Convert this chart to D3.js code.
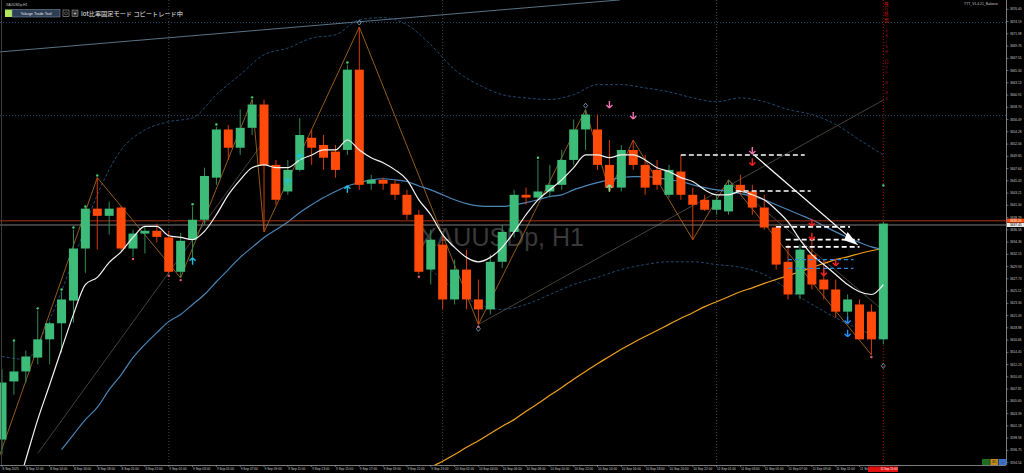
<!DOCTYPE html>
<html><head><meta charset="utf-8">
<script src="https://cdn.jsdelivr.net/npm/d3@7"></script>
<style>html,body{margin:0;padding:0;background:#000;overflow:hidden}svg{display:block}</style>
</head><body><svg id="c" width="1024" height="473"></svg>
<script>
// ---- DATA ----
const barTimes = ["8 Sep 10:00","8 Sep 11:00","8 Sep 12:00","8 Sep 13:00","8 Sep 14:00","8 Sep 15:00","8 Sep 16:00","8 Sep 17:00","8 Sep 18:00","8 Sep 19:00","8 Sep 20:00","8 Sep 21:00","8 Sep 22:00","8 Sep 23:00",
"9 Sep 01:00","9 Sep 02:00","9 Sep 03:00","9 Sep 04:00","9 Sep 05:00","9 Sep 06:00","9 Sep 07:00","9 Sep 08:00","9 Sep 09:00","9 Sep 10:00","9 Sep 11:00","9 Sep 12:00","9 Sep 13:00","9 Sep 14:00","9 Sep 15:00","9 Sep 16:00","9 Sep 17:00","9 Sep 18:00","9 Sep 19:00","9 Sep 20:00","9 Sep 21:00","9 Sep 22:00","9 Sep 23:00",
"10 Sep 01:00","10 Sep 02:00","10 Sep 03:00","10 Sep 04:00","10 Sep 05:00","10 Sep 06:00","10 Sep 07:00","10 Sep 08:00","10 Sep 09:00","10 Sep 10:00","10 Sep 11:00","10 Sep 12:00","10 Sep 13:00","10 Sep 14:00","10 Sep 15:00","10 Sep 16:00","10 Sep 17:00","10 Sep 18:00","10 Sep 19:00","10 Sep 20:00","10 Sep 21:00","10 Sep 22:00","10 Sep 23:00",
"11 Sep 01:00","11 Sep 02:00","11 Sep 03:00","11 Sep 04:00","11 Sep 05:00","11 Sep 06:00","11 Sep 07:00","11 Sep 08:00","11 Sep 09:00","11 Sep 10:00","11 Sep 11:00","11 Sep 12:00","11 Sep 13:00","11 Sep 14:00","11 Sep 15:00"];
const open  = [3598.7,3609.2,3611.0,3613.5,3616.8,3619.7,3623.8,3633.2,3640.4,3639.1,3640.6,3633.2,3635.9,3636.4,3635.2,3629.0,3634.8,3638.4,3646.0,3654.7,3651.4,3655.0,3659.2,3648.3,3643.5,3647.4,3653.2,3651.9,3650.7,3651.0,3665.5,3644.9,3645.6,3644.9,3642.9,3639.3,3629.4,3633.9,3624.0,3629.4,3624.0,3622.2,3630.8,3636.2,3642.9,3642.4,3643.5,3644.7,3649.2,3654.7,3654.7,3648.3,3644.2,3651.0,3648.3,3647.4,3642.9,3647.1,3642.9,3642.0,3640.2,3639.9,3644.7,3643.5,3640.6,3637.0,3630.8,3624.9,3632.1,3627.6,3625.8,3621.8,3623.1,3621.8,3616.8];
const high  = [3611.4,3616.4,3614.8,3622.0,3620.0,3625.4,3636.6,3640.6,3646.0,3641.7,3640.9,3636.6,3637.1,3637.7,3636.4,3636.0,3640.8,3647.8,3655.2,3655.5,3658.3,3660.1,3660.1,3649.2,3649.2,3656.8,3654.7,3653.7,3651.9,3666.4,3673.2,3646.5,3646.0,3645.6,3643.8,3640.2,3636.6,3635.7,3631.2,3633.0,3627.6,3632.1,3637.5,3643.8,3644.2,3649.2,3648.3,3651.0,3656.5,3658.3,3657.4,3652.8,3651.9,3652.8,3650.1,3649.2,3648.3,3650.1,3644.2,3642.9,3642.9,3645.6,3646.5,3644.7,3642.9,3637.5,3633.9,3633.9,3634.8,3631.2,3627.6,3624.9,3624.0,3623.1,3638.0];
const low   = [3596.0,3606.8,3609.0,3612.3,3612.3,3614.4,3619.8,3628.8,3633.0,3635.7,3632.8,3631.7,3632.3,3634.3,3628.7,3627.9,3631.2,3637.5,3644.7,3649.2,3650.1,3653.7,3636.2,3641.1,3642.9,3647.1,3648.3,3647.4,3646.0,3650.1,3643.8,3643.8,3643.8,3642.0,3638.4,3628.5,3626.7,3622.2,3623.1,3622.2,3619.5,3621.3,3629.7,3635.2,3641.1,3642.0,3642.4,3643.8,3648.3,3651.0,3647.4,3643.5,3643.5,3647.4,3642.9,3643.8,3642.4,3642.0,3634.8,3640.0,3639.3,3639.3,3642.9,3639.3,3636.6,3629.4,3624.0,3624.0,3625.8,3624.0,3620.7,3620.4,3616.8,3614.0,3615.9];
const close = [3609.0,3611.0,3613.7,3616.8,3619.7,3624.0,3633.2,3640.4,3639.1,3640.4,3633.2,3635.9,3636.4,3635.3,3629.0,3634.6,3638.4,3646.3,3654.7,3651.4,3655.0,3659.2,3648.3,3642.0,3647.4,3653.7,3651.4,3649.6,3647.4,3665.5,3644.7,3645.6,3644.9,3642.9,3639.3,3629.0,3634.8,3624.0,3629.4,3624.0,3622.2,3630.8,3636.2,3642.9,3642.4,3643.5,3644.7,3649.2,3654.7,3657.4,3648.3,3644.2,3651.0,3648.3,3644.2,3644.7,3647.4,3642.9,3641.1,3640.2,3642.0,3644.7,3643.5,3640.6,3637.0,3630.3,3624.9,3633.0,3626.7,3625.8,3621.8,3624.0,3616.8,3616.8,3637.7];
const maFast = [null,3587.9,3595.1,3602.3,3608.6,3615.0,3621.3,3626.7,3628.0,3630.7,3632.6,3635.2,3637.2,3637.2,3635.5,3635.2,3634.8,3636.3,3639.3,3642.9,3645.6,3647.8,3648.3,3647.8,3647.8,3649.2,3650.1,3651.0,3651.0,3652.8,3651.0,3649.6,3648.7,3647.4,3645.6,3642.0,3639.3,3635.7,3633.4,3631.6,3630.8,3631.6,3633.4,3636.2,3639.3,3642.0,3643.8,3645.6,3647.8,3650.1,3650.1,3649.6,3650.1,3650.1,3649.2,3647.8,3647.1,3646.0,3645.3,3643.8,3642.9,3642.9,3643.5,3642.9,3642.0,3640.2,3638.0,3634.8,3632.1,3630.3,3628.5,3626.7,3625.4,3624.9,3626.7];
const maMid = [null,null,null,null,null,3596.9,3599.6,3602.3,3604.5,3607.7,3610.4,3613.5,3615.9,3618.0,3620.0,3621.3,3623.1,3624.9,3627.2,3629.4,3631.6,3633.4,3635.2,3636.6,3638.0,3639.7,3641.1,3642.4,3643.5,3644.5,3645.1,3645.6,3645.8,3645.6,3645.3,3644.5,3643.8,3642.9,3642.0,3641.3,3640.9,3640.8,3640.8,3641.1,3641.5,3642.0,3642.6,3642.9,3643.8,3644.5,3645.1,3645.6,3646.0,3646.2,3646.2,3646.0,3645.6,3645.3,3644.7,3644.2,3643.8,3643.5,3643.1,3642.6,3642.0,3641.1,3640.2,3639.3,3638.4,3637.3,3636.2,3635.2,3634.3,3633.5,3633.0];
const maSlow = [3592.4,3593.7,3594.8,3596.0,3597.3,3598.5,3599.8,3601.1,3602.3,3603.8,3605.2,3606.7,3608.1,3609.6,3611.0,3612.4,3613.7,3615.0,3616.2,3617.3,3618.4,3619.5,3620.6,3621.6,3622.7,3623.6,3624.5,3625.4,3626.1,3626.9,3627.6,3628.3,3629.0,3629.8,3630.5,3631.2,3631.7,3632.3,3632.8,3633.2];
const maSlowStart = 35;
const bandUpper = [[0,3613.7],[2,3613.2],[4,3620.4],[6,3631.2],[8,3642.9],[10,3651.0],[12,3654.6],[14,3656.1],[16,3656.8],[18,3661.0],[20,3664.6],[22,3668.2],[24,3669.4],[26,3671.2],[28,3671.8],[30,3674.5],[32,3674.9],[34,3673.6],[36,3670.0],[38,3665.5],[40,3662.8],[42,3661.0],[44,3660.4],[46,3660.1],[48,3661.0],[50,3662.8],[52,3662.8],[54,3662.2],[56,3661.5],[58,3660.4],[60,3659.7],[62,3660.4],[64,3659.7],[66,3658.3],[68,3657.4],[70,3655.6],[72,3652.8],[74,3650.1]];
const bandLower = [[36,3629.4],[38,3625.8],[40,3623.1],[42,3622.2],[44,3623.1],[46,3624.9],[48,3626.7],[50,3628.0],[52,3629.4],[54,3630.3],[56,3630.8],[58,3630.8],[60,3630.3],[62,3629.8],[64,3628.5],[66,3625.8],[68,3623.1],[70,3620.7],[72,3618.6],[74,3616.8]];
const zigzag = [[-0.5,3594.0],[8,3646.0],[15,3627.9],[21,3660.1],[22,3636.2],[30,3673.2],[40,3619.5],[49,3658.3],[51,3643.5],[53,3652.8],[58,3634.8],[61,3645.6],[73,3614.0]];
const trendLines = [[[-0.2,3668.7],[51.9,3678.1]],[[3,3596.2],[22,3652.6]],[[40,3619.5],[74,3660.0]],[[61,3645.6],[74,3622.0]]];
const whiteLevels = [[57,67.4,3650.1],[61.6,67.9,3643.6],[65,71.2,3637.1],[65.8,72,3634.8],[65.8,72,3633.5]];
const blueLevels = [[66,71.5,3631.2],[66,71.5,3629.6]];
const cyanUp = [[16,3630.8],[24,3645.1],[25,3649.6],[29,3643.8]];
const greenUp = [[51,3644.0]];
const pinkDown = [[51,3659.3],[53,3657.3],[63,3651.0]];
const redDown = [[63,3648.9],[68,3638.0],[68,3635.5],[69,3629.0],[70,3630.8]];
const blueDown = [[71,3620.4],[71,3618.0]];
const fracHigh = [[1,3616.6],[3,3622.4],[5,3625.8],[6,3637.0],[7,3640.8],[8,3646.4],[16,3641.2],[18,3655.6],[21,3660.5],[29,3666.8],[45,3649.6],[74,3644.6]];
const fracLow = [[11,3631.3],[14,3628.3],[15,3627.5],[35,3628.1],[40,3619.1],[73,3613.6]];
const priceTicks = [3676.40,3674.19,3671.98,3669.76,3667.55,3665.34,3663.13,3660.91,3658.70,3656.49,3654.28,3652.06,3649.85,3647.64,3645.43,3643.21,3641.00,3638.79,3636.58,3634.36,3632.15,3629.94,3627.73,3625.51,3623.30,3621.09,3618.88,3616.66,3614.45,3612.24,3610.03,3607.81,3605.60,3603.39,3601.18,3598.96,3596.75,3594.54];
const timeTickBars = [0,2,4,6,8,10,12,14,16,18,20,22,24,26,28,30,32,34,36,38,40,42,44,46,48,50,52,54,56,58,60,62,64,66,68,70,72];
const timeTickLabels = ["8 Sep 2025","8 Sep 12:00","8 Sep 14:00","8 Sep 16:00","8 Sep 18:00","8 Sep 20:00","8 Sep 22:00","9 Sep 01:00","9 Sep 03:00","9 Sep 05:00","9 Sep 07:00","9 Sep 09:00","9 Sep 11:00","9 Sep 13:00","9 Sep 15:00","9 Sep 17:00","9 Sep 19:00","9 Sep 21:00","9 Sep 23:00","10 Sep 02:00","10 Sep 04:00","10 Sep 06:00","10 Sep 08:00","10 Sep 10:00","10 Sep 12:00","10 Sep 14:00","10 Sep 16:00","10 Sep 18:00","10 Sep 20:00","10 Sep 22:00","11 Sep 01:00","11 Sep 03:00","11 Sep 05:00","11 Sep 07:00","11 Sep 09:00","11 Sep 11:00","11 Sep 13:00"];
const daySeparators = [14,37,60];
const bidPrice = 3638.20, askPrice = 3637.45;
const hLevelsDotted = [3674.00, 3657.20];

// ---- LAYOUT ----
const W = 1024, H = 473, plotR = 1006, plotB = 465;
const svg = d3.select("#c");
const x = d3.scaleLinear().domain([0, 74]).range([2, 2 + 74 * 11.91]);
const y = d3.scaleLinear().domain([3594.54, 3676.40]).range([462.6, 9.3]);
svg.append("rect").attr("width", W).attr("height", H).attr("fill", "#000");
const defs = svg.append("defs");
defs.append("clipPath").attr("id", "pc").append("rect").attr("x", 0).attr("y", 0).attr("width", plotR).attr("height", plotB);
const g = svg.append("g").attr("clip-path", "url(#pc)");
const font = "'Liberation Sans', Arial, sans-serif";
const fs = 3.2;

g.append("text").attr("x", 502).attr("y", 246).attr("text-anchor", "middle").attr("fill", "#3a3a3a")
  .attr("font-family", "'Liberation Sans', Arial, sans-serif").attr("font-size", 25).text("XAUUSDp, H1");

hLevelsDotted.forEach(p => g.append("line").attr("x1", 0).attr("x2", plotR).attr("y1", y(p)).attr("y2", y(p))
  .attr("stroke", "#2f5f8f").attr("stroke-width", 0.8).attr("stroke-dasharray", "1,2"));
daySeparators.forEach(i => g.append("line").attr("x1", x(i)).attr("x2", x(i)).attr("y1", 0).attr("y2", plotB)
  .attr("stroke", "#555").attr("stroke-width", 0.8).attr("stroke-dasharray", "1,2"));
g.append("line").attr("x1", x(74)).attr("x2", x(74)).attr("y1", 0).attr("y2", plotB)
  .attr("stroke", "#c01010").attr("stroke-width", 0.8).attr("stroke-dasharray", "1,2");

const lineXY = d3.line().x(d => x(d[0])).y(d => y(d[1]));
trendLines.forEach((t, k) => g.append("path").attr("d", lineXY(t)).attr("fill", "none")
  .attr("stroke", k === 0 ? "#6f8fa8" : "#5a5248").attr("stroke-width", 0.8));

const bandLine = d3.line().x(d => x(d[0])).y(d => y(d[1])).curve(d3.curveMonotoneX);
[bandUpper, bandLower].forEach(b => g.append("path").attr("d", bandLine(b)).attr("fill", "none")
  .attr("stroke", "#24507a").attr("stroke-width", 0.9).attr("stroke-dasharray", "3,2"));

g.append("path").attr("d", lineXY(zigzag)).attr("fill", "none").attr("stroke", "#b8731f").attr("stroke-width", 0.8);

const maLine = (arr, off) => d3.line().defined(d => d != null).x((d, i) => x(i + off)).y(d => y(d)).curve(d3.curveMonotoneX)(arr);
g.append("path").attr("d", maLine(maSlow, maSlowStart)).attr("fill", "none").attr("stroke", "#f0a020").attr("stroke-width", 1.2);
g.append("path").attr("d", maLine(maMid, 0)).attr("fill", "none").attr("stroke", "#4a86b8").attr("stroke-width", 1.2);

g.append("line").attr("x1", 0).attr("x2", plotR).attr("y1", y(bidPrice)).attr("y2", y(bidPrice)).attr("stroke", "#c0391b").attr("stroke-width", 0.9);
g.append("line").attr("x1", 0).attr("x2", plotR).attr("y1", y(askPrice)).attr("y2", y(askPrice)).attr("stroke", "#8a8a8a").attr("stroke-width", 0.9);

const bw = 9;
const green = "#3dbb78", red = "#ff4a0a";
const bars = barTimes.map((t, i) => ({ i, o: open[i], h: high[i], l: low[i], c: close[i] }));
const cg = g.append("g");
cg.selectAll("line.w").data(bars).join("line").attr("x1", d => x(d.i)).attr("x2", d => x(d.i))
  .attr("y1", d => y(d.h)).attr("y2", d => y(d.l)).attr("stroke", d => d.c >= d.o ? "#2e8a58" : "#d83a08").attr("stroke-width", 1);
cg.selectAll("rect").data(bars).join("rect").attr("x", d => x(d.i) - bw / 2).attr("width", bw)
  .attr("y", d => y(Math.max(d.o, d.c))).attr("height", d => Math.max(1, Math.abs(y(d.o) - y(d.c))))
  .attr("fill", d => d.c >= d.o ? green : red);

g.append("path").attr("d", maLine(maFast, 0)).attr("fill", "none").attr("stroke", "#f4f4f4").attr("stroke-width", 1.2);

whiteLevels.forEach(l => g.append("line").attr("x1", x(l[0])).attr("x2", x(l[1])).attr("y1", y(l[2])).attr("y2", y(l[2]))
  .attr("stroke", "#fff").attr("stroke-width", 1.6).attr("stroke-dasharray", "5,3"));
blueLevels.forEach(l => g.append("line").attr("x1", x(l[0])).attr("x2", x(l[1])).attr("y1", y(l[2])).attr("y2", y(l[2]))
  .attr("stroke", "#2a8ae0").attr("stroke-width", 1.2).attr("stroke-dasharray", "4,3"));
g.append("line").attr("x1", x(63.2)).attr("y1", y(3650.0)).attr("x2", x(71.6)).attr("y2", y(3634.4)).attr("stroke", "#fff").attr("stroke-width", 1.3);
g.append("path").attr("d", d3.line()([[x(71.9), y(3633.8)], [x(71.0), y(3636.2)], [x(70.7), y(3634.7)]])).attr("fill", "#fff");

g.selectAll("circle.fh").data(fracHigh).join("circle").attr("cx", d => x(d[0])).attr("cy", d => y(d[1])).attr("r", 1.2).attr("fill", "#40d070");
g.selectAll("circle.fl").data(fracLow).join("circle").attr("cx", d => x(d[0])).attr("cy", d => y(d[1])).attr("r", 1.2).attr("fill", "#e06080");

function arrow(list, color, up) {
  list.forEach(d => {
    const cx = x(d[0]), cy = y(d[1]), s = up ? -1 : 1;
    g.append("path").attr("d", `M${cx},${cy + 4 * s}L${cx - 3},${cy + s}M${cx},${cy + 4 * s}L${cx + 3},${cy + s}M${cx},${cy + 4 * s}L${cx},${cy - 3 * s}`)
      .attr("stroke", color).attr("stroke-width", 1.4).attr("fill", "none");
  });
}
arrow(cyanUp, "#20c0e0", true);
arrow(greenUp, "#80e0a0", true);
arrow(pinkDown, "#f070b0", false);
arrow(redDown, "#ff2020", false);
arrow(blueDown, "#2090ff", false);

[[30, 3674.0], [40, 3618.7], [49, 3659.0], [74, 3612.0]].forEach(d => g.append("path")
  .attr("d", `M${x(d[0])},${y(d[1]) - 2.5}L${x(d[0]) + 2},${y(d[1])}L${x(d[0])},${y(d[1]) + 2.5}L${x(d[0]) - 2},${y(d[1])}Z`)
  .attr("fill", "none").attr("stroke", "#9ab8d8").attr("stroke-width", 0.7));

const vt = "残り時間 14:58 ロット 0.01";
svg.append("g").selectAll("text").data(vt.split("")).join("text").attr("x", x(74) + 3).attr("y", (d, i) => 6 + i * 5.2)
  .attr("text-anchor", "middle").attr("fill", "#d01818").attr("font-family", "'Noto Sans CJK JP', sans-serif").attr("font-size", 4.2).text(d => d);

// ---- AXES ----
svg.append("line").attr("x1", plotR + 0.5).attr("x2", plotR + 0.5).attr("y1", 0).attr("y2", plotB).attr("stroke", "#9a9a9a").attr("stroke-width", 0.8);
svg.append("line").attr("x1", 0).attr("x2", plotR).attr("y1", plotB + 0.5).attr("y2", plotB + 0.5).attr("stroke", "#9a9a9a").attr("stroke-width", 0.8);
svg.append("line").attr("x1", 1.5).attr("x2", 1.5).attr("y1", 0).attr("y2", plotB).attr("stroke", "#4a4a4a").attr("stroke-width", 0.8);
const yAxis = svg.append("g");
priceTicks.forEach(p => {
  yAxis.append("line").attr("x1", plotR).attr("x2", plotR + 2.5).attr("y1", y(p)).attr("y2", y(p)).attr("stroke", "#9a9a9a").attr("stroke-width", 0.6);
  yAxis.append("text").attr("x", plotR + 4).attr("y", y(p) + 1.1).attr("fill", "#c8c8c8").attr("font-family", font).attr("font-size", fs).text(p.toFixed(2));
});
const xAxis = svg.append("g");
timeTickBars.forEach((b, k) => {
  xAxis.append("line").attr("x1", x(b)).attr("x2", x(b)).attr("y1", plotB).attr("y2", plotB + 2).attr("stroke", "#9a9a9a").attr("stroke-width", 0.6);
  xAxis.append("text").attr("x", x(b) + 0.5).attr("y", plotB + 5.3).attr("fill", "#c8c8c8").attr("font-family", font).attr("font-size", fs).text(timeTickLabels[k]);
});
svg.append("rect").attr("x", 868).attr("y", plotB + 1.5).attr("width", 30).attr("height", 5.5).attr("fill", "#e01010");
svg.append("text").attr("x", 897.5).attr("y", plotB + 5.3).attr("text-anchor", "end").attr("fill", "#fff").attr("font-family", font).attr("font-size", 2.9).text("11 Sep 15:00");
svg.append("rect").attr("x", plotR + 1).attr("y", y(bidPrice) - 2.2).attr("width", 17).attr("height", 4).attr("fill", "#ff4a0a");
svg.append("text").attr("x", plotR + 4).attr("y", y(bidPrice) + 1.1).attr("fill", "#fff").attr("font-family", font).attr("font-size", fs).text(bidPrice.toFixed(2));
svg.append("rect").attr("x", plotR + 1).attr("y", y(askPrice) - 2).attr("width", 17).attr("height", 4).attr("fill", "#e8e8e8");
svg.append("text").attr("x", plotR + 4).attr("y", y(askPrice) + 1.1).attr("fill", "#000").attr("font-family", font).attr("font-size", fs).text(askPrice.toFixed(2));

[["#1c6e22", ""], ["#c08a1a", "BC"], ["#3a70c8", "—"]].forEach((b, k) => {
  svg.append("rect").attr("x", 982 + k * 8.3).attr("y", 459).attr("width", 7.8).attr("height", 6).attr("fill", b[0]);
  svg.append("text").attr("x", 986 + k * 8.3).attr("y", 463.2).attr("text-anchor", "middle").attr("fill", "#222").attr("font-family", font).attr("font-size", 3).text(b[1]);
});

svg.append("text").attr("x", 6).attr("y", 5.5).attr("fill", "#c8c8c8").attr("font-family", font).attr("font-size", 3.4).text("XAUUSDp,H1");
svg.append("rect").attr("x", 5).attr("y", 9.5).attr("width", 7).attr("height", 7.5).attr("fill", "#b2e85c");
svg.append("rect").attr("x", 12).attr("y", 9.5).attr("width", 48).attr("height", 7.5).attr("fill", "#2e3e55").attr("stroke", "#8a9bb0").attr("stroke-width", 0.5);
svg.append("text").attr("x", 36).attr("y", 14.5).attr("text-anchor", "middle").attr("fill", "#e0e6ee").attr("font-family", font).attr("font-size", 3.8).text("Yokuge Trade Tool");
svg.append("rect").attr("x", 63).attr("y", 10).attr("width", 6).attr("height", 6.5).attr("fill", "none").attr("stroke", "#aaa").attr("stroke-width", 0.6);
svg.append("circle").attr("cx", 66).attr("cy", 13.4).attr("r", 1.5).attr("fill", "none").attr("stroke", "#aaa").attr("stroke-width", 0.5);
svg.append("rect").attr("x", 72).attr("y", 10).attr("width", 6).attr("height", 6.5).attr("fill", "#333").attr("stroke", "#aaa").attr("stroke-width", 0.5);
svg.append("text").attr("x", 75).attr("y", 15).attr("text-anchor", "middle").attr("fill", "#eee").attr("font-family", font).attr("font-size", 5).text("+");
svg.append("text").attr("x", 81).attr("y", 15.8).attr("fill", "#e8e8e8").attr("font-family", "'Noto Sans CJK JP', sans-serif").attr("font-size", 6.2).text("lot比率固定モード コピートレード中");
svg.append("text").attr("x", 998).attr("y", 5).attr("text-anchor", "end").attr("fill", "#c8c8c8").attr("font-family", font).attr("font-size", 3.4).text("TTT_V1.4.21_Balance");
</script></body></html>
